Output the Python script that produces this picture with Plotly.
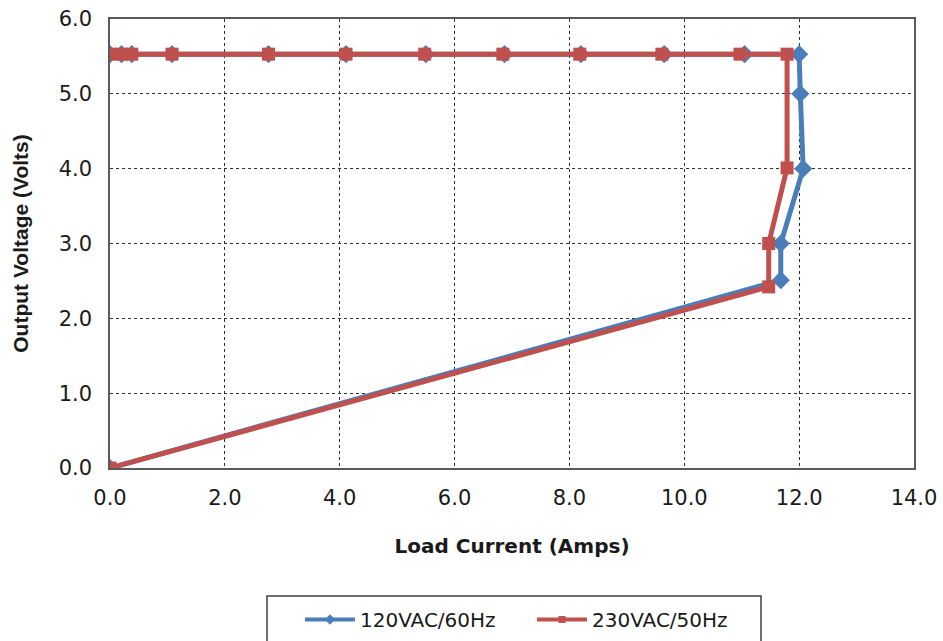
import plotly.graph_objects as go

# Data
current_120 = [0.0, 0.2, 0.38, 1.08, 2.76, 4.11, 5.50, 6.87, 8.20, 9.65, 11.05, 12.0, 12.02, 12.07, 11.68, 11.68, 0.0]
voltage_120 = [5.53, 5.53, 5.53, 5.53, 5.53, 5.53, 5.53, 5.53, 5.53, 5.53, 5.53, 5.53, 5.0, 4.0, 3.0, 2.51, 0.0]

current_230 = [0.0, 0.2, 0.38, 1.08, 2.76, 4.11, 5.48, 6.84, 8.18, 9.61, 10.97, 11.79, 11.79, 11.47, 11.47, 0.0]
voltage_230 = [5.53, 5.53, 5.53, 5.53, 5.53, 5.53, 5.53, 5.53, 5.53, 5.53, 5.53, 5.53, 4.01, 3.0, 2.42, 0.0]

series_names = ["120VAC/60Hz", "230VAC/50Hz"]
x_ticks = [0, 2, 4, 6, 8, 10, 12, 14]
y_ticks = [0, 1, 2, 3, 4, 5, 6]

BLUE = "#4A7EBB"
RED = "#C0504D"
WIDE = "DejaVu Sans, sans-serif"
NARROW = "Liberation Sans, Arial, sans-serif"
TXT = "#1a1a1a"

fig = go.Figure()
fig.add_trace(go.Scatter(
    x=current_120, y=voltage_120, name=series_names[0], mode="lines+markers",
    line=dict(color=BLUE, width=5), showlegend=False,
    marker=dict(symbol="diamond", size=14, color=BLUE),
))
fig.add_trace(go.Scatter(
    x=current_230, y=voltage_230, name=series_names[1], mode="lines+markers",
    line=dict(color=RED, width=5), showlegend=False,
    marker=dict(symbol="square", size=13, color=RED),
))
# legend entries (smaller symbols, as in the reference legend)
fig.add_trace(go.Scatter(
    x=[None], y=[None], name=series_names[0], mode="lines+markers",
    line=dict(color=BLUE, width=4), marker=dict(symbol="diamond", size=8, color=BLUE),
))
fig.add_trace(go.Scatter(
    x=[None], y=[None], name=series_names[1], mode="lines+markers",
    line=dict(color=RED, width=4), marker=dict(symbol="square", size=7, color=RED),
))

axis_common = dict(
    showgrid=True, gridcolor="#303030", griddash="dot", gridwidth=1,
    showline=True, linecolor="#5a5a5a", linewidth=1.5, mirror=True,
    zeroline=False, ticks="", automargin=False,
    tickfont=dict(family=WIDE, size=21, color=TXT),
)

fig.update_xaxes(
    range=[0, 14], tickvals=x_ticks, ticktext=[f"{v:.1f}" for v in x_ticks],
    ticklabelstandoff=10,
    title=dict(text="<b>Load Current (Amps)</b>", font=dict(family=WIDE, size=20, color=TXT), standoff=30),
    **axis_common,
)
fig.update_yaxes(
    range=[0, 6], tickvals=y_ticks, ticktext=[f"{v:.1f}" for v in y_ticks],
    ticklabelstandoff=12,
    title=dict(text="<b>Output Voltage (Volts)</b>", font=dict(family=NARROW, size=21, color=TXT), standoff=24),
    **axis_common,
)

# legend frame (extends past the bottom edge, as in the reference)
fig.add_shape(
    type="rect", xref="paper", yref="paper",
    x0=(267 - 110) / 804, x1=(761 - 110) / 804,
    y0=(468 - 660) / 449, y1=(468 - 596) / 449,
    line=dict(color="#404040", width=1.5), fillcolor="rgba(0,0,0,0)",
)

fig.update_layout(
    width=943, height=641,
    margin=dict(l=110, r=29, t=19, b=173, autoexpand=False),
    plot_bgcolor="white", paper_bgcolor="white",
    font=dict(family=WIDE, size=20, color=TXT),
    showlegend=True,
    legend=dict(
        orientation="h", x=(532 - 110) / 804, xanchor="center",
        y=(468 - 600) / 449, yanchor="top",
        borderwidth=0, bgcolor="rgba(0,0,0,0)",
        font=dict(family=WIDE, size=20, color=TXT),
        entrywidth=167, itemwidth=50,
    ),
)

fig.write_html("out.html")
